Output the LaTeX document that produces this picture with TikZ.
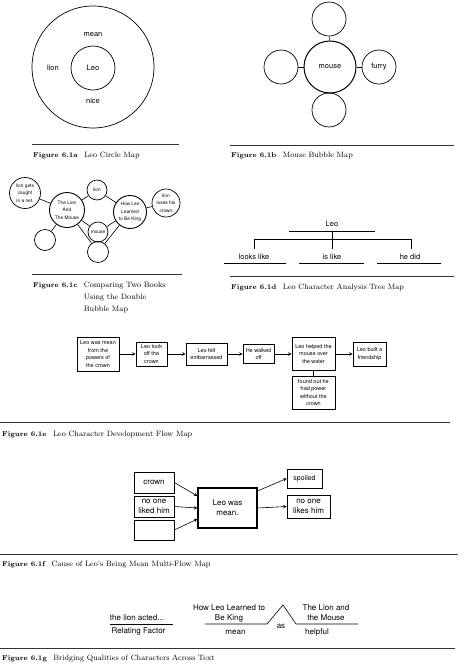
\documentclass[tikz,border=0pt]{standalone}
\usepackage{fontspec}
\newfontfamily\diagfont{TeX Gyre Heros}
\usetikzlibrary{arrows}
\tikzstyle{bubble} = [
    circle,
    draw=black,
    line width=0.7pt,
    inner sep=0pt,
    align=center,
    font=\diagfont\fontsize{7.5}{8.5}\selectfont
]
\tikzstyle{smallbubble} = [
    bubble,
    font=\diagfont\fontsize{4.8}{7.5}\selectfont
]
\tikzstyle{wordtext} = [
    inner sep=0pt,
    align=center,
    font=\diagfont\fontsize{7.5}{8.5}\selectfont
]
\tikzstyle{bridgetext} = [
    inner sep=0pt,
    align=center,
    font=\diagfont\fontsize{8}{10}\selectfont
]
\tikzstyle{flowbox} = [
    rectangle,
    draw=black,
    line width=0.6pt,
    inner sep=0pt,
    align=center,
    font=\diagfont\fontsize{5.5}{7.5}\selectfont
]
\tikzstyle{causebox} = [
    rectangle,
    draw=black,
    line width=0.7pt,
    inner sep=0pt,
    align=center,
    font=\diagfont\fontsize{8}{10}\selectfont
]
\tikzstyle{figno} = [
    anchor=base west,
    inner sep=0pt,
    font=\bfseries\fontsize{7}{9}\selectfont
]
\tikzstyle{figtitle} = [
    anchor=base west,
    inner sep=0pt,
    font=\fontsize{7.7}{9}\selectfont
]
\tikzstyle{rule} = [line width=0.8pt, black!80]
\tikzstyle{link} = [line width=0.6pt]
\tikzstyle{arrow} = [line width=0.6pt,->,>=stealth]

\begin{document}
\begin{tikzpicture}[x=1pt, y=-1pt]
\useasboundingbox (0,0) rectangle (464,665);

% 6.1a circle map
\node (frame) [bubble, minimum size=122pt] at (93,67) {};
\node (leoA) [bubble, minimum size=44pt] at (93,68) {Leo};
\node (mean) [wordtext] at (93,35) {mean};
\node (lionA) [wordtext] at (53,68) {lion};
\node (nice) [wordtext] at (93,101) {nice};

\draw [rule] (32,144) -- (179,144);
\node (figA) [figno] at (33,157) {Figure 6.1a};
\node (capA) [figtitle] at ([xshift=6pt]figA.base east) {Leo Circle Map};

% 6.1b bubble map
\node (mouse) [bubble, minimum size=52pt, line width=1pt] at (330,67) {mouse};
\node (topB) [bubble, minimum size=34pt] at (329,19) {};
\node (bottomB) [bubble, minimum size=34pt] at (329,110) {};
\node (leftB) [bubble, minimum size=34pt] at (281,67) {};
\node (furry) [bubble, minimum size=34pt] at (379,67) {furry};

\draw [link] (mouse) -- (topB);
\draw [link] (mouse) -- (bottomB);
\draw [link] (mouse) -- (leftB);
\draw [link] (mouse) -- (furry);

\draw [rule] (230,145) -- (454,145);
\node (figB) [figno] at (231,157) {Figure 6.1b};
\node (capB) [figtitle] at ([xshift=6pt]figB.base east) {Mouse Bubble Map};

% 6.1c double bubble map
\node (net) [smallbubble, minimum size=31pt] at (25,193) {lion gets\\caught\\in a net.};
\node (bookA) [smallbubble, minimum size=35pt, line width=0.9pt] at (67,210) {The Lion\\And\\The Mouse};
\node (bookB) [smallbubble, minimum size=33pt, line width=0.9pt] at (130,212) {How Leo\\Learned\\to Be King};
\node (lionC) [smallbubble, minimum size=20pt] at (97,190) {lion};
\node (mouseC) [smallbubble, minimum size=20pt] at (98,232) {mouse};
\node (blankC) [smallbubble, minimum size=21pt] at (98,252) {};
\node (loses) [smallbubble, minimum size=28pt] at (166,203) {lion\\loses his\\crown};
\node (extraC) [smallbubble, minimum size=21pt] at (45,240) {};

\draw [link] (net) -- (bookA);
\draw [link] (bookA) -- (extraC);
\draw [link] (bookA) -- (lionC);
\draw [link] (bookA) -- (mouseC);
\draw [link] (bookA) -- (blankC);
\draw [link] (bookB) -- (lionC);
\draw [link] (bookB) -- (mouseC);
\draw [link] (bookB) -- (blankC);
\draw [link] (bookB) -- (loses);

\draw [rule] (32,274) -- (182,274);
\node (figC) [figno] at (33,287) {Figure 6.1c};
\node (capC) [figtitle] at ([xshift=6pt]figC.base east) {Comparing Two Books};
\node (capC2) [figtitle] at ([yshift=-12pt]capC.base west) {Using the Double};
\node (capC3) [figtitle] at ([yshift=-12pt]capC2.base west) {Bubble Map};

% 6.1d tree map
\node (leoD) [wordtext] at (332,224) {Leo};
\node (looks) [wordtext] at (254,257) {looks like};
\node (islike) [wordtext] at (332,257) {is like};
\node (hedid) [wordtext] at (410,257) {he did};

\draw [link] (289,231) -- (375,231);
\draw [link] (332,231) -- (332,249);
\draw [link] (254,249) -- (254,239) -- (411,239) -- (411,249);
\draw [link] (224,263) -- (286,263);
\draw [link] (299,263) -- (364,263);
\draw [link] (377,263) -- (441,263);

\draw [rule] (230,276) -- (454,276);
\node (figD) [figno] at (231,289) {Figure 6.1d};
\node (capD) [figtitle] at ([xshift=6pt]figD.base east) {Leo Character Analysis Tree Map};

% 6.1e flow map
\node (powers) [flowbox, minimum width=42pt, minimum height=34pt, line width=1pt] at (98,354) {Leo was mean\\from the\\powers of\\the crown};
\node (tookoff) [flowbox, minimum width=31pt, minimum height=24pt] at (151.5,354) {Leo took\\off the\\crown};
\node (felt) [flowbox, minimum width=41pt, minimum height=22pt] at (206.5,354) {Leo felt\\embarrassed};
\node (walked) [flowbox, minimum width=31pt, minimum height=19pt] at (258.5,354) {He walked\\off};
\node (helped) [flowbox, minimum width=43pt, minimum height=33pt] at (313.5,354) {Leo helped the\\mouse over\\the water};
\node (built) [flowbox, minimum width=33pt, minimum height=24pt] at (369.5,354) {Leo built a\\friendship};
\node (found) [flowbox, minimum width=43pt, minimum height=33pt] at (313.5,392.5) {found out he\\had power\\without the\\crown};

\draw [arrow] (powers) -- (tookoff);
\draw [arrow] (tookoff) -- (felt);
\draw [arrow] (felt) -- (walked);
\draw [arrow] (walked) -- (helped);
\draw [arrow] (helped) -- (built);
\draw [link] (helped) -- (found);

\draw [rule] (0,422) -- (450,422);
\node (figE) [figno] at (2,436) {Figure 6.1e};
\node (capE) [figtitle] at ([xshift=6pt]figE.base east) {Leo Character Development Flow Map};

% 6.1f multi-flow map
\node (crown) [causebox, minimum width=40pt, minimum height=21pt] at (154,482.5) {crown};
\node (liked) [causebox, minimum width=40pt, minimum height=21pt] at (154,506.5) {no one\\liked him};
\node (blankF) [causebox, minimum width=40pt, minimum height=20pt] at (154,530) {};
\node (wasmean) [causebox, minimum width=59pt, minimum height=40pt, line width=1.1pt] at (227.5,508) {Leo was\\mean.};
\node (spoiled) [causebox, minimum width=35pt, minimum height=19pt, font=\diagfont\fontsize{7}{9}\selectfont] at (304.5,478.5) {spoiled};
\node (likes) [causebox, minimum width=43pt, minimum height=23pt] at (308.5,506.5) {no one\\likes him};

\draw [arrow] (crown.east) -- ([yshift=12pt]wasmean.west);
\draw [arrow] (liked.east) -- (wasmean.west);
\draw [arrow] (blankF.east) -- ([yshift=-11pt]wasmean.west);
\draw [arrow] ([yshift=17pt]wasmean.east) -- (spoiled.west);
\draw [arrow] (wasmean.east) -- (likes.west);

\draw [rule] (0,554) -- (458,554);
\node (figF) [figno] at (2,566) {Figure 6.1f};
\node (capF) [figtitle] at ([xshift=6pt]figF.base east) {Cause of Leo's Being Mean Multi-Flow Map};

% 6.1g bridge map
\node (acted) [bridgetext] at (137,618) {the lion acted...};
\node (factor) [bridgetext] at (138.5,631) {Relating Factor};
\node (howleo) [bridgetext] at (229,613) {How Leo Learned to\\Be King};
\node (meanG) [bridgetext] at (235.5,632) {mean};
\node (asG) [bridgetext] at (281,626) {as};
\node (lionmouse) [bridgetext] at (326,613) {The Lion and\\the Mouse};
\node (helpful) [bridgetext] at (317,632) {helpful};

\draw [link] (110,624) -- (173,624);
\draw [link] (205,624) -- (267,624) -- (283,605) -- (296,624) -- (358,624);

\draw [rule] (0,648) -- (455,648);
\node (figG) [figno] at (2,660) {Figure 6.1g};
\node (capG) [figtitle] at ([xshift=6pt]figG.base east) {Bridging Qualities of Characters Across Text};

\end{tikzpicture}
\end{document}
